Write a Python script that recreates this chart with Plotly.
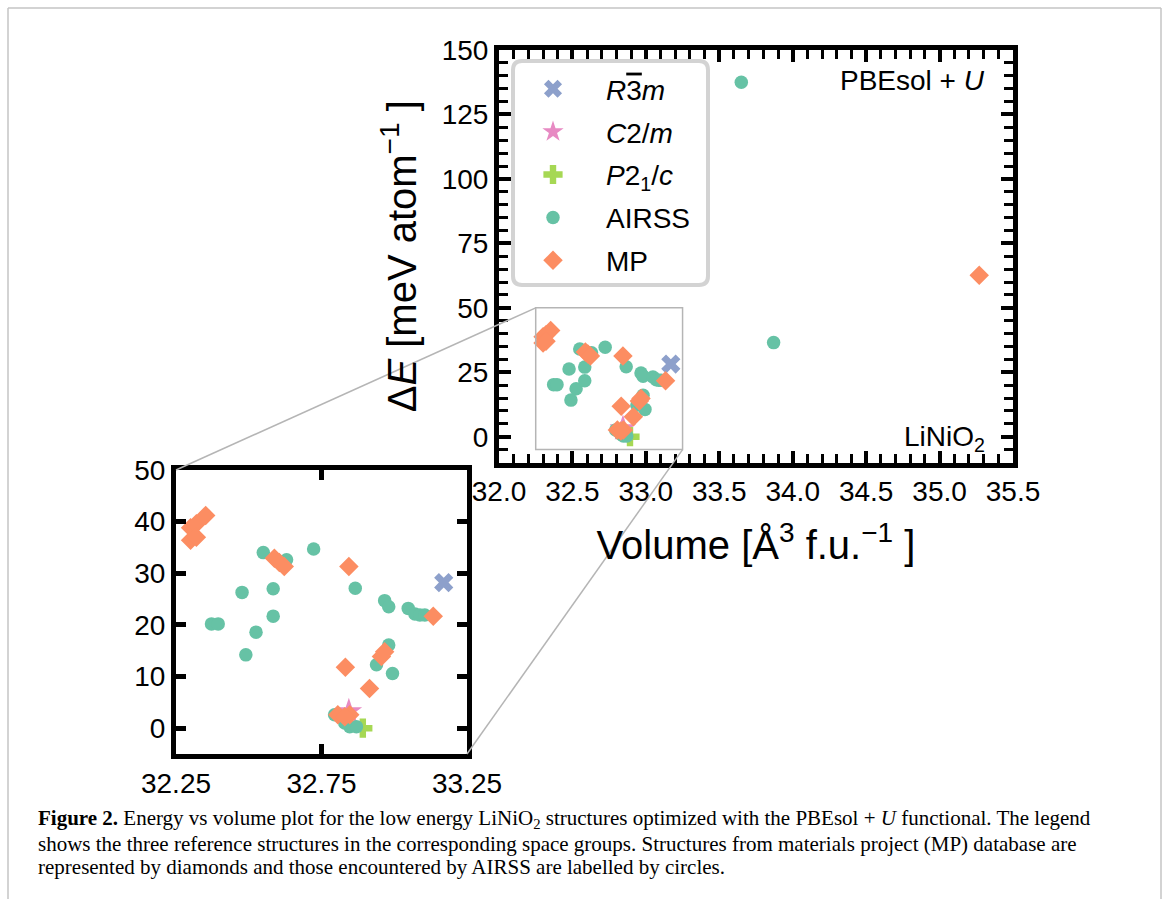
import plotly.graph_objects as go

W, H = 1166, 899

# ---------------- data ----------------
r3m_x = [33.17]
r3m_y = [28.2]
c2m_x = [32.844]
c2m_y = [3.2]
p21c_x = [32.892]
p21c_y = [0.0]

airss_x = [32.372, 32.395, 32.477, 32.490, 32.525, 32.550, 32.584, 32.584, 32.630,
           32.723, 32.866, 32.967, 32.981, 33.048, 33.071, 33.088, 33.105, 32.981,
           32.939, 32.994, 32.795, 32.847, 32.870, 32.830, 33.65, 33.87]
airss_y = [20.2, 20.2, 26.3, 14.2, 18.6, 34.0, 27.0, 21.7, 32.6,
           34.7, 27.1, 24.7, 23.5, 23.2, 22.1, 21.9, 21.9, 16.1,
           12.3, 10.6, 2.6, 0.3, 0.3, 1.0, 137.5, 36.5]

mp_x = [32.30, 32.32, 32.352, 32.30, 32.32, 32.588, 32.605, 32.622, 32.844,
        32.832, 32.915, 32.956, 32.967, 33.134, 32.806, 32.847, 32.830, 35.27]
mp_y = [38.8, 39.6, 41.2, 36.4, 37.0, 32.9, 32.1, 31.3, 31.3,
        11.8, 7.7, 13.9, 14.8, 21.7, 2.6, 2.6, 2.2, 62.6]

series_names = ['<i>R</i><span style="text-decoration:overline">3</span><i>m</i>',
                '<i>C</i>2/<i>m</i>',
                '<i>P</i>2<sub>1</sub>/<i>c</i>',
                'AIRSS', 'MP']
colors = ["#8da0cb", "#e78ac3", "#a6d854", "#66c2a5", "#fc8d62"]
symbols = ["x", "star", "cross", "circle", "diamond"]
sizes = [17, 20, 16, 13.5, 15]

main_xticks = [32.0, 32.5, 33.0, 33.5, 34.0, 34.5, 35.0, 35.5]
main_yticks = [0, 25, 50, 75, 100, 125, 150]
inset_xticks = [32.25, 32.75, 33.25]
inset_yticks = [0, 10, 20, 30, 40, 50]

# ---------------- geometry (pixels -> paper) ----------------
def pxx(p):
    return p / W


def pxy(p):
    return 1 - p / H


main_dx = [pxx(499), pxx(1013)]
main_dy = [pxy(462.5), pxy(50)]
ins_dx = [pxx(176), pxx(467)]
ins_dy = [pxy(754), pxy(470)]
main_xr = [32.0, 35.5]
main_yr = [-10, 150]
ins_xr = [32.25, 33.25]
ins_yr = [-5, 50]


def main_to_paper(x, y):
    px = main_dx[0] + (x - main_xr[0]) / (main_xr[1] - main_xr[0]) * (main_dx[1] - main_dx[0])
    py = main_dy[0] + (y - main_yr[0]) / (main_yr[1] - main_yr[0]) * (main_dy[1] - main_dy[0])
    return px, py


FONT = "Liberation Sans, Arial, Helvetica, sans-serif"
SERIF = "Liberation Serif, Times New Roman, serif"

fig = go.Figure()
all_x = [r3m_x, c2m_x, p21c_x, airss_x, mp_x]
all_y = [r3m_y, c2m_y, p21c_y, airss_y, mp_y]
for i in range(5):
    fig.add_trace(go.Scatter(
        x=all_x[i], y=all_y[i], mode="markers", name=series_names[i],
        legendgroup=str(i),
        marker=dict(symbol=symbols[i], color=colors[i], size=sizes[i], line=dict(width=0)),
        xaxis="x", yaxis="y"))
for i in range(5):
    fig.add_trace(go.Scatter(
        x=all_x[i], y=all_y[i], mode="markers", name=series_names[i],
        legendgroup=str(i), showlegend=False,
        marker=dict(symbol=symbols[i], color=colors[i], size=sizes[i], line=dict(width=0)),
        xaxis="x2", yaxis="y2"))

axis_common = dict(showgrid=False, zeroline=False, showline=True, linecolor="black",
                   linewidth=5, mirror="allticks", ticks="inside", tickcolor="black",
                   automargin=False,
                   tickfont=dict(size=28, family=FONT, color="black"))

main_x_ticks = dict(tickvals=main_xticks, ticklen=12, tickwidth=4,
                    minor=dict(dtick=0.1, tick0=32.0, ticks="inside", ticklen=9, tickwidth=3, tickcolor="black"))
main_y_ticks = dict(tickvals=main_yticks, ticklen=12, tickwidth=4,
                    minor=dict(dtick=5, tick0=0, ticks="inside", ticklen=9, tickwidth=3, tickcolor="black"))
ins_x_ticks = dict(tickvals=inset_xticks, ticklen=10, tickwidth=5)
ins_y_ticks = dict(tickvals=inset_yticks, ticklen=10, tickwidth=5)

fig.update_layout(
    width=W, height=H, margin=dict(l=0, r=0, t=0, b=0, pad=0, autoexpand=False),
    paper_bgcolor="white", plot_bgcolor="white",
    font=dict(family=FONT, color="black"),
    xaxis=dict(domain=main_dx, range=main_xr, anchor="y",
               ticktext=[f"{v:.1f}" for v in main_xticks],
               title=dict(text="Volume [Å<sup>3</sup> f.u.<sup>−1</sup> ]", font=dict(size=40), standoff=26),
               **main_x_ticks, **axis_common),
    yaxis=dict(domain=main_dy, range=main_yr, anchor="x",
               title=dict(text="Δ<i>E</i> [meV atom<sup>−1</sup> ]", font=dict(size=40), standoff=14),
               **main_y_ticks, **axis_common),
    xaxis2=dict(domain=ins_dx, range=ins_xr, anchor="y2",
                ticktext=[f"{v:.2f}" for v in inset_xticks],
                **ins_x_ticks, **axis_common),
    yaxis2=dict(domain=ins_dy, range=ins_yr, anchor="x2", **ins_y_ticks, **axis_common),
    # helper axes on the opposite sides so that tick marks show on all four frame edges
    xaxis3=dict(overlaying="x", side="top", anchor="y", range=main_xr, showticklabels=False,
                **main_x_ticks, **axis_common),
    yaxis3=dict(overlaying="y", side="right", anchor="x", range=main_yr, showticklabels=False,
                **main_y_ticks, **axis_common),
    xaxis4=dict(overlaying="x2", side="top", anchor="y2", range=ins_xr, showticklabels=False,
                **ins_x_ticks, **axis_common),
    yaxis4=dict(overlaying="y2", side="right", anchor="x2", range=ins_yr, showticklabels=False,
                **ins_y_ticks, **axis_common),
    legend=dict(x=pxx(500), y=pxy(64), xanchor="left", yanchor="top",
                bgcolor="rgba(0,0,0,0)", borderwidth=0, font=dict(size=28, family=FONT),
                tracegroupgap=3.5, itemwidth=96, traceorder="grouped"),
    showlegend=True,
)

shapes = []
# page border (top, left, right)
border = dict(type="line", xref="paper", yref="paper", line=dict(color="#c4c4c4", width=1.5), layer="below")
shapes.append(dict(border, x0=pxx(8), x1=pxx(1161), y0=pxy(8), y1=pxy(8)))
shapes.append(dict(border, x0=pxx(8), x1=pxx(8), y0=pxy(8), y1=pxy(899)))
shapes.append(dict(border, x0=pxx(1161), x1=pxx(1161), y0=pxy(8), y1=pxy(899)))

# inset indicator rectangle in main axes
shapes.append(dict(type="rect", xref="x", yref="y", x0=ins_xr[0], x1=ins_xr[1], y0=ins_yr[0], y1=ins_yr[1],
                   line=dict(color="#b5b5b5", width=1.5), layer="above"))
# connectors
tl = main_to_paper(ins_xr[0], ins_yr[1])
br = main_to_paper(ins_xr[1], ins_yr[0])
conn = dict(type="line", xref="paper", yref="paper", line=dict(color="#b5b5b5", width=1.5), layer="above")
shapes.append(dict(conn, x0=tl[0], y0=tl[1], x1=ins_dx[0], y1=ins_dy[1]))
shapes.append(dict(conn, x0=br[0], y0=br[1], x1=ins_dx[1], y1=ins_dy[0]))

# rounded legend box
x0, x1, y0, y1 = 513, 708, 61, 285
r = 9
rx, ry = r / W, r / H
X0, X1, Y0, Y1 = pxx(x0), pxx(x1), pxy(y0), pxy(y1)
path = (f"M {X0+rx},{Y0} L {X1-rx},{Y0} Q {X1},{Y0} {X1},{Y0-ry} L {X1},{Y1+ry} Q {X1},{Y1} {X1-rx},{Y1} "
        f"L {X0+rx},{Y1} Q {X0},{Y1} {X0},{Y1+ry} L {X0},{Y0-ry} Q {X0},{Y0} {X0+rx},{Y0} Z")
shapes.append(dict(type="path", xref="paper", yref="paper", path=path, fillcolor="white",
                   line=dict(color="#d3d3d3", width=4), layer="above"))
fig.update_layout(shapes=shapes)

annotations = [
    dict(text="PBEsol + <i>U</i>", x=pxx(987), y=pxy(80), xanchor="right", yanchor="middle",
         font=dict(size=28, family=FONT)),
    dict(text="LiNiO<sub>2</sub>", x=pxx(987), y=pxy(438), xanchor="right", yanchor="middle",
         font=dict(size=28, family=FONT)),
    dict(text="<b>Figure 2.</b> Energy vs volume plot for the low energy LiNiO<sub>2</sub> structures optimized with the PBEsol + <i>U</i> functional. The legend",
         x=pxx(36), y=pxy(819), xanchor="left", yanchor="middle", font=dict(size=21, family=SERIF)),
    dict(text="shows the three reference structures in the corresponding space groups. Structures from materials project (MP) database are",
         x=pxx(36), y=pxy(843.5), xanchor="left", yanchor="middle", font=dict(size=21, family=SERIF)),
    dict(text="represented by diamonds and those encountered by AIRSS are labelled by circles.",
         x=pxx(36), y=pxy(867), xanchor="left", yanchor="middle", font=dict(size=21, family=SERIF)),
]
for a in annotations:
    a.update(xref="paper", yref="paper", showarrow=False)
fig.update_layout(annotations=annotations)

fig.write_html("out.html", config={"displayModeBar": False},
               post_script="document.body.style.margin='0';document.body.style.overflow='hidden';")
